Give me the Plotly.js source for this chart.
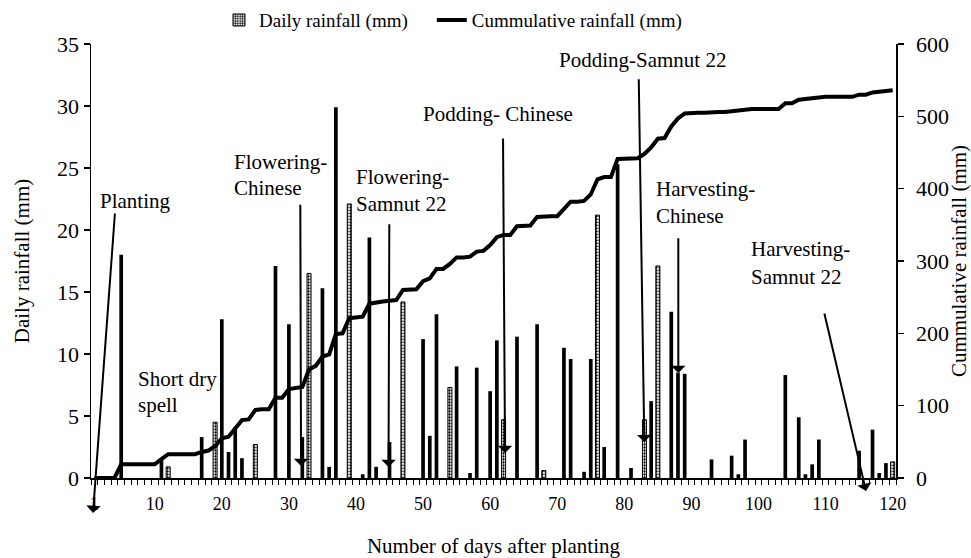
<!DOCTYPE html>
<html>
<head>
<meta charset="utf-8">
<script src="https://cdn.plot.ly/plotly-3.0.1.min.js"></script>
<style>
html,body{margin:0;padding:0;background:#fff;}
#chart{width:971px;height:558px;}
</style>
</head>
<body>
<div id="chart"></div>
<script>
// ---- data ----
const rainDays = [5,11,12,17,19,20,21,22,23,25,28,30,32,33,35,36,37,39,41,42,43,45,47,50,51,52,54,55,57,58,60,61,62,64,67,68,71,72,74,75,76,77,79,81,83,84,85,87,88,89,93,96,97,98,104,106,107,108,109,115,117,118,119,120];
const rainMm = [18.0,1.5,0.9,3.3,4.5,12.8,2.1,4.1,1.6,2.7,17.1,12.4,3.3,16.5,15.3,0.9,29.9,22.1,0.3,19.4,0.9,2.9,14.2,11.2,3.4,13.2,7.3,9.0,0.4,8.9,7.0,11.1,4.7,11.4,12.4,0.6,10.5,9.6,0.5,9.6,21.2,2.5,25.3,0.8,4.7,6.2,17.1,13.4,8.5,8.4,1.5,1.8,0.3,3.1,8.3,4.9,0.3,1.1,3.1,2.2,3.9,0.4,1.2,1.3];
const hatchedDays = [12,19,25,33,39,47,54,62,68,76,83,85,120];
const cumulative = [
  0,0,0,0,19,19,19,19,19,19,
  26,33,33,33,33,33,36,38,44,55,
  57,68,80,81,94,95,95,111,111,123,
  124,126,150,155,168,171,199,200,221,222,
  223,241,243,244,245,246,260,260,261,272,
  276,289,289,296,305,305,306,313,314,322,
  333,336,336,348,348,349,361,362,362,362,
  373,382,382,383,392,413,416,416,441,441,
  442,442,448,457,469,470,486,497,504,505,
  505,505,506,506,506,507,508,510,510,510,
  510,510,510,518,518,523,524,525,527,527,
  527,527,527,527,530,530,533,534,535,536];
const xTickVals = [1,10,20,30,40,50,60,70,80,90,100,110,120];
const xTickText = ['1','10','20','30','40','50','60','70','80','90','100','110','120'];

// ---- derived traces ----
const dayIndex = cumulative.map((_, i) => i + 1);
const hDays = [], hMm = [], sDays = [], sMm = [];
rainDays.forEach((d, i) => {
  if (hatchedDays.indexOf(d) >= 0) { hDays.push(d); hMm.push(rainMm[i]); }
  else { sDays.push(d); sMm.push(rainMm[i]); }
});

const FONT = "'Liberation Serif', 'Times New Roman', Times, serif";

const traces = [
  {
    type: 'bar', name: 'Daily rainfall (mm)\u00a0\u00a0\u00a0\u00a0', x: hDays, y: hMm, width: 0.6,
    marker: {color: '#ffffff', line: {color: '#000', width: 1},
      pattern: {shape: '.', fgcolor: '#000', bgcolor: '#fff', size: 3, solidity: 0.45}},
    showlegend: true, hoverinfo: 'x+y'
  },
  {
    type: 'bar', name: 'Daily rainfall solid', x: sDays, y: sMm, width: 0.55,
    marker: {color: '#000', line: {color: '#000', width: 0}},
    showlegend: false, hoverinfo: 'x+y'
  },
  {
    type: 'scatter', mode: 'lines', name: 'Cummulative rainfall (mm)',
    x: dayIndex, y: cumulative, yaxis: 'y2',
    line: {color: '#000', width: 4}
  }
];

const txt = (t, x, y) => ({text: t, x: x, y: y, xref: 'x', yref: 'y', showarrow: false,
  xanchor: 'left', yanchor: 'middle', font: {family: FONT, size: 21, color: '#000'}});
const arr = (tx, ty, hx, hy) => ({text: '', x: hx, y: hy, ax: tx, ay: ty, xref: 'x', yref: 'y',
  axref: 'x', ayref: 'y', showarrow: true, arrowhead: 1, arrowsize: 1.2, arrowwidth: 2,
  arrowcolor: '#000', standoff: 0, startstandoff: 0});

const annotations = [
  txt('Planting', 1.54, 22.3),
  txt('Short dry', 7.28, 7.95),
  txt('spell', 7.28, 5.9),
  txt('Flowering-', 21.45, 25.48),
  txt('Chinese', 21.45, 23.39),
  txt('Flowering-', 39.71, 24.3),
  txt('Samnut 22', 39.71, 22.1),
  txt('Podding- Chinese', 49.65, 29.35),
  txt('Podding-Samnut 22', 69.92, 33.75),
  txt('Harvesting-', 84.43, 23.3),
  txt('Chinese', 84.43, 21.15),
  txt('Harvesting-', 98.64, 18.5),
  txt('Samnut 22', 98.64, 16.2),
  arr(4.08, 21.45, 0.80, -2.82),
  arr(31.70, 22.15, 31.81, 0.97),
  arr(44.97, 20.59, 44.85, 0.89),
  arr(61.92, 27.50, 62.22, 2.02),
  arr(82.15, 32.28, 82.98, 2.90),
  arr(88.05, 19.46, 88.05, 8.47),
  arr(109.77, 13.39, 116.03, -1.05)
];

const layout = {
  width: 971, height: 558,
  margin: {l: 91, r: 75, t: 44, b: 80, pad: 0, autoexpand: false},
  paper_bgcolor: '#fff', plot_bgcolor: '#fff',
  font: {family: FONT, color: '#000', size: 18},
  barmode: 'overlay',
  showlegend: true,
  legend: {orientation: 'h', x: 0.159, xanchor: 'left', y: 1.055, yanchor: 'middle',
    font: {family: FONT, size: 19, color: '#000'}, bgcolor: 'rgba(0,0,0,0)',
    traceorder: 'normal'},
  xaxis: {
    range: [0.5, 120.5], tickmode: 'array', tickvals: xTickVals, ticktext: xTickText,
    ticks: '', showline: true, linecolor: '#000', linewidth: 1.5, showgrid: false, zeroline: false,
    tickfont: {family: FONT, size: 18}, ticklabelstandoff: 9,
    minor: {tickmode: 'linear', tick0: 0.5, dtick: 1, ticks: 'outside', ticklen: 5,
      tickcolor: '#000', tickwidth: 1, showgrid: false},
    title: {text: 'Number of days after planting', font: {family: FONT, size: 21}, standoff: 26},
    automargin: false
  },
  yaxis: {
    range: [0, 35], tick0: 0, dtick: 5, ticks: 'outside', ticklen: 6, tickwidth: 1.5,
    tickcolor: '#000', showline: true, linecolor: '#000', linewidth: 1.5, showgrid: false,
    zeroline: false, tickfont: {family: FONT, size: 22},
    title: {text: 'Daily rainfall (mm)', font: {family: FONT, size: 21}, standoff: 21},
    automargin: false
  },
  yaxis2: {
    range: [0, 600], tick0: 0, dtick: 100, overlaying: 'y', side: 'right', ticks: 'outside',
    ticklen: 6, tickwidth: 1.5, tickcolor: '#000', showline: true, linecolor: '#000',
    linewidth: 1.5, showgrid: false, zeroline: false, tickfont: {family: FONT, size: 22},
    ticklabelstandoff: 8,
    title: {text: 'Cummulative rainfall (mm)', font: {family: FONT, size: 21}, standoff: 7},
    automargin: false
  },
  annotations: annotations
};

Plotly.newPlot('chart', traces, layout, {displayModeBar: false, staticPlot: true});
</script>
</body>
</html>
